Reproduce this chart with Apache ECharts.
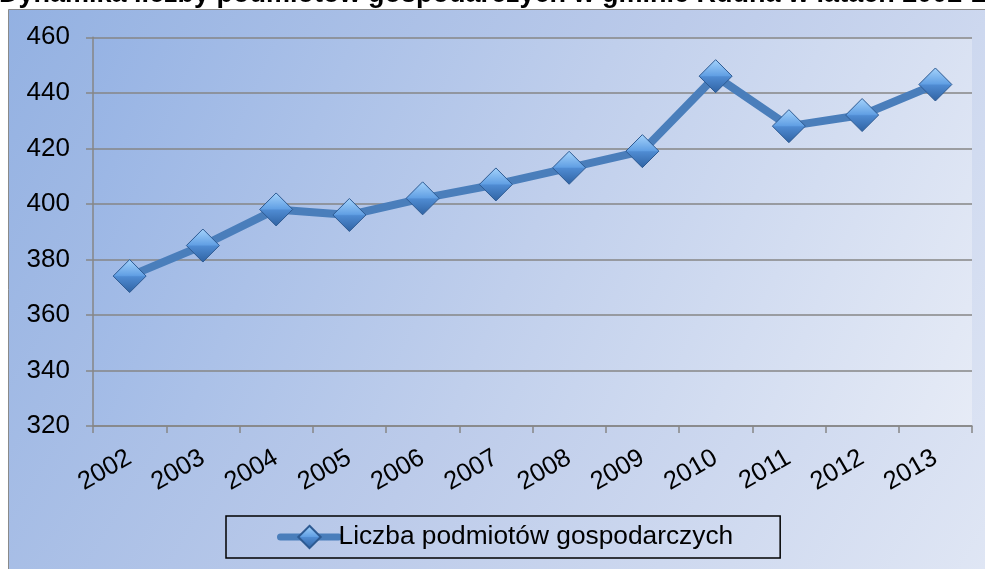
<!DOCTYPE html>
<html>
<head>
<meta charset="utf-8">
<script src="https://cdn.jsdelivr.net/npm/echarts@6/dist/echarts.min.js"></script>
<style>
html,body{margin:0;padding:0;background:#fff;}
#chart{width:985px;height:569px;}
</style>
</head>
<body>
<div id="chart"></div>
<script>
const titleText = 'Dynamika liczby podmiotów gospodarczych w gminie Rudna w latach 2002-2013';
const seriesName = 'Liczba podmiotów gospodarczych';
const years = ['2002','2003','2004','2005','2006','2007','2008','2009','2010','2011','2012','2013'];
const counts = [374, 385, 398, 396, 402, 407, 413, 419, 446, 428, 432, 443];
const yMin = 320, yMax = 460, yStep = 20;

const FONT = '"Liberation Sans", Arial, sans-serif';
const chart = echarts.init(document.getElementById('chart'), null, {renderer: 'canvas'});

const markerFill = new echarts.graphic.LinearGradient(0, 0, 0, 1, [
  {offset: 0, color: '#a6d4fc'},
  {offset: 0.48, color: '#62a0e4'},
  {offset: 0.52, color: '#4f8bd2'},
  {offset: 1, color: '#2f62a2'}
]);

chart.setOption({
  animation: false,
  graphic: [
    {
      type: 'rect', z: -10,
      shape: {x: 8.5, y: 9.5, width: 1000, height: 600},
      style: {
        fill: new echarts.graphic.LinearGradient(0, 0, 1, 1, [
          {offset: 0, color: '#93b1e2'},
          {offset: 0.5, color: '#bccbea'},
          {offset: 1, color: '#e2e8f5'}
        ]),
        stroke: '#8a8a8a', lineWidth: 1
      }
    },
    {
      type: 'text', z: 10,
      style: {
        x: -1, y: -5, text: titleText,
        font: 'bold 27px ' + FONT, fill: '#000',
        verticalAlign: 'middle', align: 'left'
      }
    }
  ],
  grid: {
    left: 93, right: 13, top: 37.3, bottom: 143,
    show: true, borderWidth: 0,
    backgroundColor: new echarts.graphic.LinearGradient(0, 0, 1, 1, [
      {offset: 0, color: '#96b3e4'},
      {offset: 0.5, color: '#c0cfec'},
      {offset: 1, color: '#e6ebf6'}
    ])
  },
  legend: {
    left: 226, top: 516,
    padding: [8, 47, 8, 51],
    borderColor: '#000', borderWidth: 1.5,
    itemWidth: 58, itemHeight: 28, itemGap: 3,
    lineStyle: {width: 7, cap: 'round', color: '#4a7ebb'},
    textStyle: {fontFamily: FONT, fontSize: 26.3, color: '#000', padding: [0,0,0,-5]},
    data: [seriesName]
  },
  xAxis: {
    type: 'category', data: years, boundaryGap: true,
    axisLine: {lineStyle: {color: '#868686', width: 1.5}},
    axisTick: {show: true, length: 7, alignWithLabel: false, lineStyle: {color: '#868686', width: 1.5}},
    axisLabel: {rotate: 30, fontFamily: FONT, fontSize: 25.5, color: '#000', margin: 30, interval: 0},
    splitLine: {show: false}
  },
  yAxis: {
    type: 'value', min: yMin, max: yMax, interval: yStep,
    axisLine: {show: true, lineStyle: {color: '#868686', width: 1.5}},
    axisTick: {show: true, length: 7, inside: false, lineStyle: {color: '#868686', width: 1.5}},
    axisLabel: {fontFamily: FONT, fontSize: 26, color: '#000', margin: 23},
    splitLine: {show: true, lineStyle: {color: '#868686', width: 1.5}}
  },
  series: [{
    name: seriesName, type: 'line', data: counts,
    symbol: 'diamond', symbolSize: 33,
    lineStyle: {color: '#4a7ebb', width: 8},
    itemStyle: {color: markerFill, borderColor: '#2d5a92', borderWidth: 1},
    emphasis: {disabled: true}
  }]
});
</script>
</body>
</html>
